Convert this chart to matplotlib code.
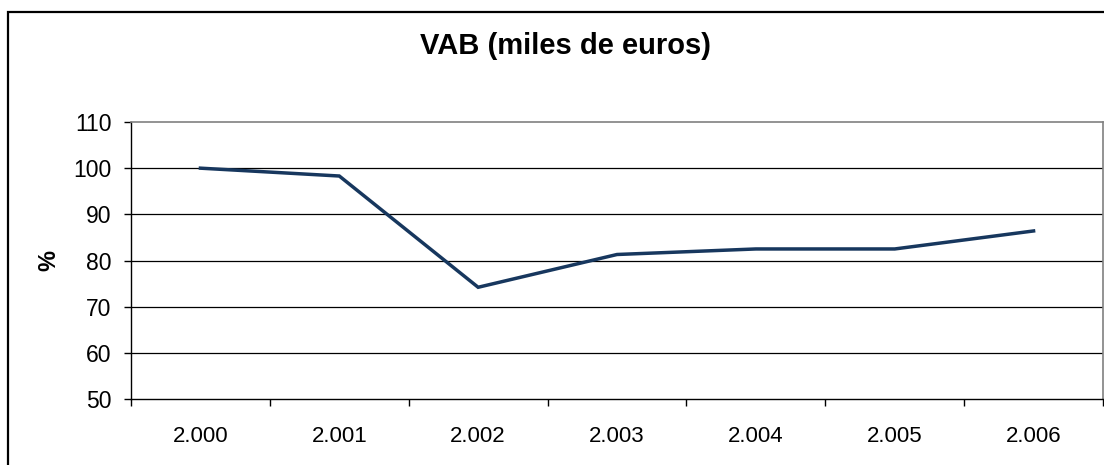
import matplotlib
matplotlib.use("Agg")
import matplotlib.pyplot as plt
from matplotlib.patches import Rectangle

years = ["2.000", "2.001", "2.002", "2.003", "2.004", "2.005", "2.006"]
values = [100.0, 98.3, 74.2, 81.3, 82.5, 82.5, 86.4]
yticks = [50, 60, 70, 80, 90, 100, 110]

plt.rcParams['font.family'] = ['Liberation Sans', 'DejaVu Sans']

W, H = 1104, 465
fig = plt.figure(figsize=(W / 100, H / 100), dpi=100)
fig.patch.set_facecolor('white')

# outer chart border
fig.patches.append(Rectangle((8 / W, -0.1), 1.2, (H - 12) / H + 0.1, transform=fig.transFigure,
                             fill=False, edgecolor='black', linewidth=1.6, zorder=0))

ax = fig.add_axes([131 / W, 66 / H, (1103 - 131) / W, (399 - 122) / H])
x = list(range(len(years)))
ax.plot(x, values, color='#17375E', linewidth=2.5, solid_joinstyle='miter', zorder=3)

ax.set_xlim(-0.5, len(years) - 0.5)
ax.set_ylim(50, 110)
ax.set_yticks(yticks)
ax.set_yticklabels([str(v) for v in yticks])
ax.set_xticks(x)
ax.set_xticklabels(years)
ax.set_xticks([i - 0.5 for i in range(len(years) + 1)], minor=True)
ax.tick_params(axis='x', which='major', length=0, pad=19.5, labelsize=16)
ax.tick_params(axis='x', which='minor', length=5, width=1, color='black', direction='out')
ax.tick_params(axis='y', length=5, width=1, color='black', direction='out', pad=9, labelsize=16.5)

for v in yticks[1:-1]:
    ax.axhline(v, color='#000000', linewidth=0.9, zorder=1)

for s in ['left', 'bottom']:
    ax.spines[s].set_color('black')
    ax.spines[s].set_linewidth(1.0)
for s in ['top', 'right']:
    ax.spines[s].set_color('#808080')
    ax.spines[s].set_linewidth(1.2)

ax.set_ylabel('%', fontsize=17, fontweight='bold', labelpad=9)
fig.text(566 / W, 1 - 46 / H, 'VAB (miles de euros)', ha='center', va='center',
         fontsize=21, fontweight='bold')

fig.savefig('out.png', dpi=100)
